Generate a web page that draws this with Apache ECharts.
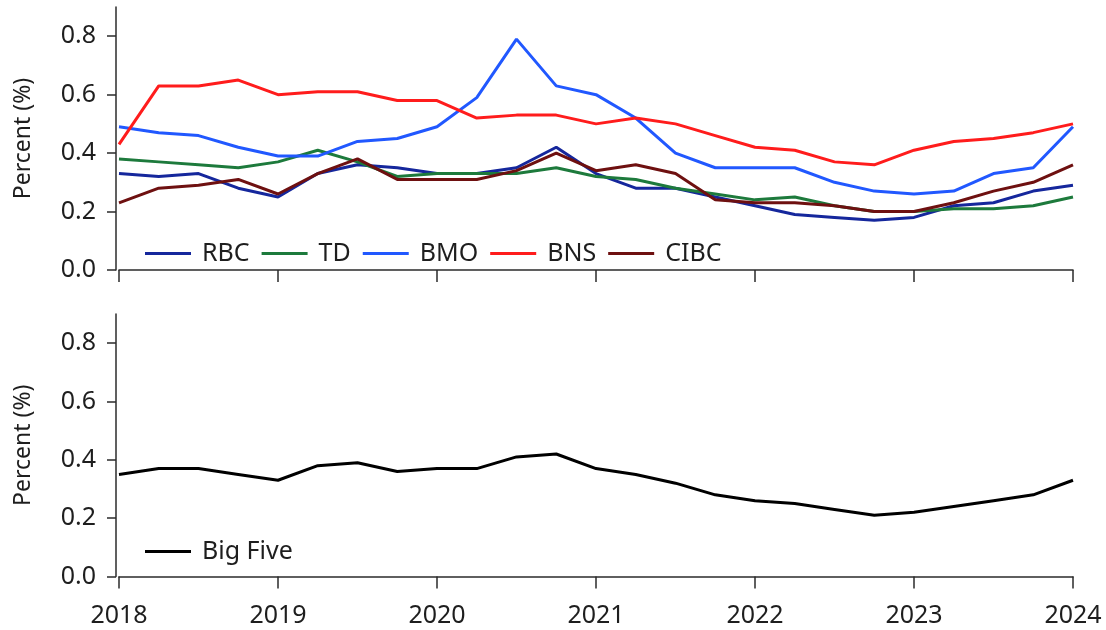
<!DOCTYPE html>
<html>
<head>
<meta charset="utf-8">
<script src="https://cdn.jsdelivr.net/npm/echarts@6/dist/echarts.min.js"></script>
<style>
  html, body { margin: 0; padding: 0; background: #fff; }
  #chart { width: 1106px; height: 630px; }
</style>
</head>
<body>
<div id="chart"></div>
<script>
// Quarterly observations, 2018 Q1 through 2024 Q1
const quarters = [2018, 2018.25, 2018.5, 2018.75, 2019, 2019.25, 2019.5, 2019.75,
  2020, 2020.25, 2020.5, 2020.75, 2021, 2021.25, 2021.5, 2021.75,
  2022, 2022.25, 2022.5, 2022.75, 2023, 2023.25, 2023.5, 2023.75, 2024];

const rbc  = [0.33, 0.32, 0.33, 0.28, 0.25, 0.33, 0.36, 0.35, 0.33, 0.33, 0.35, 0.42, 0.33,
              0.28, 0.28, 0.25, 0.22, 0.19, 0.18, 0.17, 0.18, 0.22, 0.23, 0.27, 0.29];
const td   = [0.38, 0.37, 0.36, 0.35, 0.37, 0.41, 0.37, 0.32, 0.33, 0.33, 0.33, 0.35, 0.32,
              0.31, 0.28, 0.26, 0.24, 0.25, 0.22, 0.20, 0.20, 0.21, 0.21, 0.22, 0.25];
const bmo  = [0.49, 0.47, 0.46, 0.42, 0.39, 0.39, 0.44, 0.45, 0.49, 0.59, 0.79, 0.63, 0.60,
              0.52, 0.40, 0.35, 0.35, 0.35, 0.30, 0.27, 0.26, 0.27, 0.33, 0.35, 0.49];
const bns  = [0.43, 0.63, 0.63, 0.65, 0.60, 0.61, 0.61, 0.58, 0.58, 0.52, 0.53, 0.53, 0.50,
              0.52, 0.50, 0.46, 0.42, 0.41, 0.37, 0.36, 0.41, 0.44, 0.45, 0.47, 0.50];
const cibc = [0.23, 0.28, 0.29, 0.31, 0.26, 0.33, 0.38, 0.31, 0.31, 0.31, 0.34, 0.40, 0.34,
              0.36, 0.33, 0.24, 0.23, 0.23, 0.22, 0.20, 0.20, 0.23, 0.27, 0.30, 0.36];
const bigFive = [0.35, 0.37, 0.37, 0.35, 0.33, 0.38, 0.39, 0.36, 0.37, 0.37, 0.41, 0.42, 0.37,
                 0.35, 0.32, 0.28, 0.26, 0.25, 0.23, 0.21, 0.22, 0.24, 0.26, 0.28, 0.33];

const yearTicks = [2018, 2019, 2020, 2021, 2022, 2023, 2024];
const percentTicks = [0, 0.2, 0.4, 0.6, 0.8];
const yAxisTitle = 'Percent (%)';

const FONT = 'Noto Sans';
const AXIS_COLOR = '#2b2b2b';
const TEXT_COLOR = '#1e1e1e';

const toPairs = (vals) => quarters.map((q, i) => [q, vals[i]]);

function xAxisFor(gridIndex, showLabels, offset) {
  return {
    type: 'value', gridIndex, min: 2018, max: 2024, interval: 1, offset,
    axisLine: { show: true, lineStyle: { color: AXIS_COLOR, width: 1.5 } },
    axisTick: { show: true, length: 12, lineStyle: { color: AXIS_COLOR, width: 1.5 },
                customValues: yearTicks },
    axisLabel: { show: showLabels, color: TEXT_COLOR, fontSize: 25, fontFamily: FONT,
                 margin: 23, customValues: yearTicks, formatter: v => String(v) },
    splitLine: { show: false }
  };
}

function yAxisFor(gridIndex) {
  return {
    type: 'value', gridIndex, min: 0, max: 0.9, offset: 3,
    name: yAxisTitle, nameLocation: 'middle', nameGap: 81, nameRotate: 90,
    nameTextStyle: { color: TEXT_COLOR, fontSize: 23, fontFamily: FONT },
    axisLine: { show: true, lineStyle: { color: AXIS_COLOR, width: 1.5 } },
    axisTick: { show: true, length: 9, lineStyle: { color: AXIS_COLOR, width: 1.5 },
                customValues: percentTicks },
    axisLabel: { color: TEXT_COLOR, fontSize: 25, fontFamily: FONT, margin: 20,
                 customValues: percentTicks, formatter: v => v.toFixed(1) },
    splitLine: { show: false }
  };
}

function lineSeries(name, vals, color, gridIdx) {
  return {
    name, type: 'line', xAxisIndex: gridIdx, yAxisIndex: gridIdx,
    data: toPairs(vals), symbol: 'none', smooth: false,
    lineStyle: { color, width: 3 }, itemStyle: { color },
    emphasis: { disabled: true }, animation: false
  };
}

const legendText = { color: TEXT_COLOR, fontSize: 25, fontFamily: FONT, padding: [0, 0, 0, 6] };

const chart = echarts.init(document.getElementById('chart'), null, { renderer: 'canvas' });

chart.setOption({
  backgroundColor: '#ffffff',
  animation: false,
  grid: [
    { left: 119, right: 33, top: 7, height: 263 },
    { left: 119, right: 33, top: 314, height: 262.5 }
  ],
  xAxis: [xAxisFor(0, false, 5), xAxisFor(1, true, 4)],
  yAxis: [yAxisFor(0), yAxisFor(1)],
  legend: [
    {
      data: ['RBC', 'TD', 'BMO', 'BNS', 'CIBC'],
      left: 140, top: 236, orient: 'horizontal',
      icon: 'rect', itemWidth: 46, itemHeight: 3, itemGap: 12,
      textStyle: legendText, selectedMode: false
    },
    {
      data: ['Big Five'],
      left: 140, top: 534,
      icon: 'rect', itemWidth: 46, itemHeight: 3,
      textStyle: legendText, selectedMode: false
    }
  ],
  series: [
    lineSeries('RBC', rbc, '#15279c', 0),
    lineSeries('TD', td, '#1d7a3c', 0),
    lineSeries('BMO', bmo, '#2158ff', 0),
    lineSeries('BNS', bns, '#ff1c1c', 0),
    lineSeries('CIBC', cibc, '#6e1010', 0),
    lineSeries('Big Five', bigFive, '#000000', 1)
  ]
});
</script>
</body>
</html>
